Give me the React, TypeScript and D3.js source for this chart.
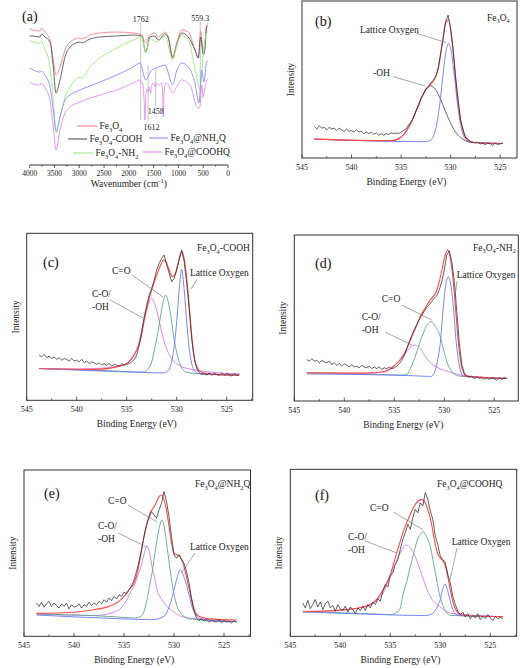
import React from "react";
import * as d3 from "d3";

type Pt = [number, number];
const FONT = "'Liberation Serif', 'Times New Roman', Times, serif";

/* ---------------- (a) FTIR data: [wavenumber, transmittance a.u.] ---------------- */
const wavenumberTicks = [4000, 3500, 3000, 2500, 2000, 1500, 1000, 500, 0];
const ftirNames = ["Fe_3O_4", "Fe_3O_4-COOH", "Fe_3O_4-NH_2", "Fe_3O_4@NH_2Q", "Fe_3O_4@COOHQ"];
const ftirColors = ["#f2808a", "#555555", "#9cee7c", "#8a8cff", "#e38af0"];

const ftirFe3O4: Pt[] = [
  [4000, 134], [3930, 133], [3793, 132], [3760, 135], [3692, 131], [3591, 123], [3524, 103], [3470, 88],
  [3389, 96], [3288, 113], [3187, 121], [2986, 125], [2952, 124], [2784, 128], [2582, 130], [2246, 131],
  [1910, 130], [1741, 128], [1660, 120], [1574, 128], [1473, 130], [1406, 126], [1271, 131], [1204, 126],
  [1117, 106], [1036, 120], [935, 133], [801, 131], [666, 113], [599, 105], [552, 132], [498, 113],
  [470, 120], [430, 138], [400, 140],
];
const ftirCOOH: Pt[] = [
  [4000, 127], [3930, 127], [3793, 126], [3760, 129], [3692, 126], [3591, 121], [3524, 96], [3470, 70],
  [3389, 83], [3288, 106], [3187, 116], [2986, 121], [2952, 120], [2784, 124], [2582, 126], [2246, 127],
  [1910, 128], [1741, 127], [1660, 111], [1574, 126], [1473, 127], [1406, 123], [1271, 129], [1204, 125],
  [1117, 105], [1036, 118], [935, 130], [801, 126], [666, 113], [599, 105], [552, 126], [498, 108],
  [470, 112], [430, 136], [400, 137],
];
const ftirNH2: Pt[] = [
  [4000, 123], [3930, 121], [3793, 120], [3760, 122], [3692, 113], [3658, 110], [3591, 96], [3524, 63],
  [3457, 30], [3389, 46], [3288, 66], [3187, 76], [2986, 86], [2952, 85], [2784, 96], [2582, 105],
  [2246, 115], [1910, 123], [1741, 126], [1660, 110], [1574, 124], [1439, 121], [1271, 127], [1117, 103],
  [1036, 117], [935, 128], [801, 123], [632, 86], [565, 73], [498, 110], [430, 130], [400, 131],
];
const ftirNH2Q: Pt[] = [
  [4000, 95], [3930, 93], [3793, 91], [3760, 92], [3692, 88], [3591, 76], [3524, 53], [3470, 32],
  [3389, 46], [3288, 63], [3187, 68], [2986, 73], [2582, 81], [2246, 88], [1910, 96], [1775, 100],
  [1660, 83], [1540, 93], [1439, 95], [1271, 98], [1117, 78], [1036, 92], [935, 100], [801, 96],
  [666, 80], [585, 60], [532, 93], [484, 81], [430, 101], [400, 102],
];
const ftirCOOHQ: Pt[] = [
  [4000, 81], [3930, 79], [3793, 78], [3760, 80], [3692, 75], [3591, 63], [3524, 36], [3470, 13],
  [3389, 33], [3288, 50], [3187, 56], [2986, 61], [2582, 68], [2246, 73], [1910, 80], [1775, 83],
  [1720, 79], [1690, 60], [1674, 43], [1660, 66], [1640, 74], [1607, 71], [1590, 76], [1560, 70],
  [1540, 78], [1500, 80], [1473, 76], [1440, 80], [1400, 78], [1340, 80], [1320, 72], [1305, 46],
  [1290, 70], [1250, 80], [1200, 78], [1117, 70], [1036, 76], [935, 83], [835, 81], [740, 75],
  [700, 68], [650, 58], [600, 55], [565, 56], [530, 78], [500, 66], [470, 74], [430, 82], [400, 84],
];
const ftirMarkLabels = ["1762", "559.3", "1612", "1458"];
const ftirMarkWavenumbers = [1762, 559.3, 1612, 1458];
const ftirMarkTop = [140, 141, 98, 95];
const ftirMarkBottom = [43, 60, 42, 57];

/* ---------------- XPS O 1s data ---------------- */
const energyTicks = [545, 540, 535, 530, 525];
const RAW_START = 543.75; // eV of first raw point
const RAW_STEP = 0.25; // eV between raw points

// (b) Fe3O4
const rawB = [
  20, 18.5, 20.5, 19, 19.5, 18, 19.5, 18.5,
  19, 17.5, 19, 18, 17, 18.5, 17, 17.5,
  16.5, 18, 16.5, 17, 15.5, 16.5, 15.5, 16.5,
  15, 16, 14.5, 15.5, 14.5, 15.5, 15, 16,
  15.5, 16, 15.5, 16.5, 17.5, 18.5, 21, 23,
  25.5, 30, 33, 38, 40.5, 44, 45, 48,
  49.5, 52, 56.5, 66.5, 76, 87, 91, 82,
  69, 51, 37.5, 24, 18.5, 13, 12, 10.5,
  10, 9.5, 10, 9, 9.5, 8.5, 9.5, 9,
  8, 9.5, 8.5, 9, 9.5,
];
const latticeB: Pt[] = [
  [543.75, 12], [532.6, 10.4], [532.0, 11.4], [531.7, 14.4], [531.4, 21.5], [531.1, 34.1], [530.8, 51.1],
  [530.5, 66.7], [530.2, 73], [529.9, 66.7], [529.6, 51.1], [529.3, 34.1], [529.0, 21.5], [528.7, 14.4],
  [528.4, 11.4], [527.8, 10], [524.75, 9.2],
];
const hydroxylB: Pt[] = [
  [543.75, 12], [536, 10.9], [535.5, 11.5], [535, 13.3], [534.5, 16.8], [534, 22.3], [533.5, 29.6],
  [533, 37.4], [532.5, 43.6], [532, 46], [531.5, 43.4], [531, 37.2], [530.5, 29.4], [530, 22.1],
  [529.5, 16.5], [529, 13], [528.5, 11], [528, 10], [524.75, 9.2],
];
const envelopeB: Pt[] = [
  [543.75, 12], [536, 11], [535, 13.4], [534, 22.4], [533, 37.5], [532.5, 43.8], [532, 47.2], [531.7, 49.3],
  [531.4, 53.9], [531.1, 62.8], [530.8, 75.3], [530.5, 86.1], [530.2, 87.9], [529.9, 77.6], [529.6, 58.6],
  [529.3, 39.1], [529.0, 24.6], [528.7, 16.3], [528.4, 12.5], [527.8, 10], [524.75, 9.2],
];

// (c) Fe3O4-COOH
const rawC = [
  27, 26, 27.5, 25.5, 26.5, 25, 26, 24.5,
  25.5, 24, 25, 24.5, 23.5, 25, 23.5, 24,
  23, 24.5, 22.5, 23.5, 22, 23, 22.5, 21.5,
  22.5, 21, 22, 21, 22, 20.5, 21.5, 21,
  20.5, 22, 21, 21.5, 22, 23, 24.5, 27,
  33, 41, 50, 57, 63, 67, 72, 78,
  82, 85, 87, 81, 76, 71, 73, 78,
  84, 90, 83, 70, 55, 37, 25, 19,
  16.5, 15.5, 16, 15, 16.5, 15, 16, 15.5,
  15, 16.5, 15, 16, 15.5, 14.5, 16, 15,
  15.5,
];
const singleCOC: Pt[] = [
  [543.75, 19], [540, 18.7], [537, 19.5], [535.5, 21], [535, 22], [534.5, 25], [534.2, 28], [533.8, 34],
  [533.5, 42], [533.2, 50], [532.9, 56.5], [532.5, 61], [532.1, 56], [531.8, 49], [531.5, 41], [531.2, 34],
  [530.8, 28], [530.3, 23.5], [529.7, 20.7], [528.5, 18.5], [527.5, 17.5], [525.5, 16.3], [523.75, 15.8],
];
const doubleCOC: Pt[] = [
  [543.75, 19], [536, 17.5], [534, 17], [533.3, 17], [532.9, 18.5], [532.5, 23], [532.2, 31], [531.9, 40],
  [531.6, 51], [531.35, 59], [531.1, 63], [530.85, 59], [530.6, 51], [530.35, 40], [530.05, 30],
  [529.75, 23], [529.4, 18.5], [529, 16.8], [528, 16], [523.75, 15],
];
const latticeC: Pt[] = [
  [543.75, 19], [535, 17], [531.4, 16.4], [530.9, 17.5], [530.6, 21], [530.3, 30], [530.0, 47],
  [529.75, 66], [529.5, 78.4], [529.25, 66], [529.0, 47], [528.75, 31], [528.5, 22], [528.2, 17.5],
  [527.8, 16], [523.75, 15],
];
const envelopeC: Pt[] = [
  [543.75, 19], [538, 18.5], [536, 20], [535, 22], [534.5, 25], [534, 30], [533.6, 37], [533.2, 49],
  [532.8, 60], [532.4, 68], [532, 75], [531.6, 81], [531.3, 84], [531, 82], [530.75, 78], [530.45, 74],
  [530.2, 75], [529.95, 80], [529.7, 86], [529.5, 89], [529.3, 86], [529.05, 76], [528.8, 60],
  [528.55, 42], [528.3, 28], [528.05, 21], [527.7, 17.5], [527, 16], [523.75, 15],
];

// (d) Fe3O4-NH2
const rawD = [
  25, 24, 25.5, 24, 24.5, 23, 24.5, 23.5,
  23, 24, 22, 23, 21.5, 22.5, 21, 22.5,
  21.5, 20.5, 22, 20.5, 21, 20, 21.5, 20.5,
  20, 21, 19.5, 20.5, 19.5, 20.5, 19, 20,
  19.5, 20.5, 19.5, 20, 21, 22.5, 24.5, 27.5,
  31.5, 36, 39.5, 43, 46, 49, 51.5, 54,
  56.5, 58, 60, 62, 63.5, 67, 72, 79,
  88, 90.5, 84, 72, 54, 35, 22, 17,
  15, 14.5, 15, 13.5, 14.5, 13.5, 14, 13,
  14, 13, 14, 13.5, 12.5, 14, 13, 14,
  13.5,
];
const singleCOD: Pt[] = [
  [543.75, 17], [538, 16.6], [536, 17.5], [535.1, 20.7], [534.4, 24.7], [533.8, 29.5], [533.3, 33],
  [532.9, 33.7], [532.4, 31.5], [531.8, 26], [531.2, 22], [530.8, 20.5], [530, 18.5], [528.4, 15.7],
  [526, 14.2], [523.75, 13.6],
];
const doubleCOD: Pt[] = [
  [543.75, 17], [536, 15.9], [534.2, 15.6], [533.7, 16.2], [533.4, 19.5], [532.8, 28.7], [532.4, 36],
  [532.1, 40.8], [531.7, 46], [531.3, 47.8], [530.9, 45], [530.4, 38.8], [530.1, 31.5], [529.8, 24.7],
  [529.4, 19], [529.1, 16.7], [528.5, 15], [523.75, 13.6],
];
const latticeD: Pt[] = [
  [543.75, 16.3], [533, 15.2], [531.3, 14.8], [530.8, 20.7], [530.6, 27], [530.4, 34.8], [530.1, 56.8],
  [529.85, 70], [529.6, 74.9], [529.35, 70], [529.1, 56.8], [528.8, 34.8], [528.4, 18.7], [528.1, 15],
  [523.75, 13.6],
];
const envelopeD: Pt[] = [
  [543.75, 17], [538, 16.8], [536, 17.8], [535.1, 20.8], [534.4, 25], [533.8, 31], [533.3, 38],
  [532.8, 45], [532.4, 51], [531.9, 56], [531.5, 60], [531.1, 63], [530.8, 66], [530.5, 72], [530.2, 80],
  [529.9, 88], [529.65, 91], [529.4, 86], [529.1, 72], [528.8, 50], [528.5, 30], [528.2, 19], [527.8, 15],
  [523.75, 13.6],
];

// (e) Fe3O4@NH2Q
const rawE = [
  20, 18, 20.5, 17.5, 19.5, 21, 18, 20,
  18.5, 17, 19.5, 18, 20, 16.5, 19, 17.5,
  18, 19.5, 17, 19, 18, 20.5, 18.5, 20,
  19, 21, 19.5, 22, 20.5, 23, 21.5, 24,
  22.5, 25, 24, 26.5, 25.5, 28, 30, 34,
  39, 45, 52, 60, 67, 71, 75, 73,
  71, 76, 80, 87, 81, 72, 60, 49,
  47, 49, 46, 44, 39, 32, 23, 15,
  11, 9.5, 10.5, 9, 10, 8.5, 9.5, 9,
  8.5, 10, 8, 9.5, 8.5, 9, 8, 9.5,
  8.5,
];
const singleCOE: Pt[] = [
  [543.75, 13.4], [538, 12.5], [536, 14.5], [535.3, 17], [534.7, 22], [534.3, 27], [534, 30], [533.6, 37],
  [533.3, 42], [533, 49], [532.7, 54.3], [532.4, 49], [532.2, 42], [531.9, 34], [531.7, 28], [531.2, 22],
  [530.7, 18], [530, 14.5], [529.3, 12], [527, 10], [523.75, 8.8],
];
const doubleCOE: Pt[] = [
  [543.75, 13.4], [536, 11.8], [534, 11], [533.3, 12], [533, 15], [532.7, 22], [532.45, 30], [532.2, 38],
  [531.95, 48], [531.7, 58], [531.45, 66], [531.2, 70], [530.95, 65], [530.7, 54], [530.45, 43],
  [530.2, 32], [529.95, 24], [529.7, 18], [529.3, 13.5], [529, 12], [528.5, 10.5], [523.75, 8.8],
];
const latticeE: Pt[] = [
  [543.75, 12.8], [536, 10.7], [532.2, 10], [531, 12], [530.6, 16], [530.3, 21], [530, 28], [529.7, 35],
  [529.4, 40], [529.1, 37], [528.8, 32], [528.5, 25], [528.2, 18], [527.8, 13], [527.3, 10.5],
  [523.75, 8.8],
];
const envelopeE: Pt[] = [
  [543.75, 13.8], [540, 14.5], [538, 16], [536.5, 18], [535.5, 21], [535, 24], [534.5, 28], [534, 32],
  [533.6, 40], [533.3, 50], [533, 60], [532.7, 68], [532.4, 74], [532.1, 77], [531.8, 80], [531.5, 84],
  [531.25, 85], [531, 82], [530.75, 76], [530.5, 66], [530.25, 56], [530, 50], [529.7, 49], [529.4, 48],
  [529.1, 44], [528.8, 37], [528.5, 29], [528.2, 21], [527.9, 15], [527.5, 12], [526.5, 10.5],
  [523.75, 9.8],
];

// (f) Fe3O4@COOHQ
const rawF = [
  20, 17, 21.5, 16.5, 19, 22, 17.5, 20.5,
  16, 19.5, 21, 17, 18.5, 15, 19, 16.5,
  15.5, 18, 14.5, 17.5, 16, 13.5, 17, 15.5,
  18, 15.5, 19, 17, 20.5, 19, 22.5, 21,
  27, 31, 29.5, 36, 38, 43, 46, 52,
  58, 62, 67, 64, 71, 76, 74, 80,
  78, 86, 82, 75, 70, 60, 55, 48,
  46, 44, 37, 32, 24, 19, 15, 13,
  14.5, 11.5, 13.5, 10.5, 12.5, 11, 13.5, 10,
  12, 10.5, 13, 11, 9.5, 12, 10.5, 11.5,
  10.5,
];
const singleCOF: Pt[] = [
  [543.75, 14.7], [540, 15.5], [538, 17], [537.3, 17.8], [536.3, 21.8], [535.7, 26], [535.3, 31.7],
  [534.7, 40.7], [534.2, 47.5], [533.8, 52], [533.4, 54.7], [533, 53], [532.6, 49], [532.2, 43],
  [531.8, 36], [531.3, 27.7], [530.8, 22], [530.3, 18.8], [529.5, 15.5], [529, 13.8], [526, 12.3],
  [523.75, 11.8],
];
const doubleCOF: Pt[] = [
  [543.75, 14.7], [538, 13.7], [535, 13], [534.3, 14.5], [534, 17], [533.7, 25.8], [533.35, 33],
  [533, 41.7], [532.65, 50], [532.3, 57.7], [532, 61], [531.7, 62.6], [531.35, 59], [531, 53.7],
  [530.65, 43], [530.3, 31.7], [530, 23], [529.7, 17.8], [529.35, 14], [529, 12.5], [523.75, 11.8],
];
const latticeF: Pt[] = [
  [543.75, 14.7], [536, 13], [531.5, 12.4], [531, 13], [530.5, 15.5], [530.2, 19], [530, 22], [529.8, 27],
  [529.55, 31.3], [529.3, 28], [529, 21], [528.75, 16], [528.5, 13.5], [528, 12.4], [523.75, 11.8],
];
const envelopeF: Pt[] = [
  [543.75, 14.8], [540, 15.7], [538, 17.2], [537, 19], [536.3, 22.5], [535.7, 28], [535, 37], [534.5, 47],
  [534, 57], [533.5, 66], [533, 73], [532.6, 78], [532.2, 81], [531.85, 82], [531.5, 80], [531.2, 75],
  [530.9, 68], [530.6, 58], [530.3, 50], [530, 47], [529.7, 45], [529.4, 40], [529.1, 31], [528.8, 22],
  [528.5, 16.5], [528.1, 13.5], [527, 12.3], [523.75, 11.8],
];

/* ---------------- styling ---------------- */
const C_RAW = "#2b2b2b";
const C_ENV = "#ff4b4b";
const C_LAT = "#6b78ff";
const C_OH = "#555555";
const C_SINGLE = "#d27cf2";
const C_DOUBLE = "#5ca883";
const C_LEADER = "#6a6a6a";

function rich(s: string, fs: number) {
  const parts = s.split(/(_\d+)/).filter((p) => p !== "");
  const out: React.ReactNode[] = [];
  let sub = false;
  const shift = fs * 0.3;
  parts.forEach((p, i) => {
    if (p.startsWith("_")) {
      out.push(
        <tspan key={i} fontSize={fs * 0.68} dy={shift}>
          {p.slice(1)}
        </tspan>
      );
      sub = true;
    } else {
      out.push(
        <tspan key={i} dy={sub ? -shift : 0}>
          {p}
        </tspan>
      );
      sub = false;
    }
  });
  return out;
}

type Note = { lines: string[]; at: Pt; leader: [Pt, Pt] };
type Comp = { pts: Pt[]; color: string };
type XpsCfg = {
  tag: string;
  sample: string;
  left: number;
  right: number;
  top: number;
  bottom: number;
  xEnd: number;
  tagPos: [number, number];
  samplePos: [number, number];
  raw: number[];
  envelope: Pt[];
  comps: Comp[];
  notes: Note[];
};

const panels: XpsCfg[] = [
  {
    tag: "(b)", sample: "Fe_3O_4", left: 302, right: 517, top: 1, bottom: 158, xEnd: 523.3,
    tagPos: [315, 26], samplePos: [487, 20.5], raw: rawB, envelope: envelopeB,
    comps: [{ pts: hydroxylB, color: C_OH }, { pts: latticeB, color: C_LAT }],
    notes: [
      { lines: ["Lattice Oxygen"], at: [539.15, 79.3], leader: [[533.42, 79.4], [530.4, 73.4]] },
      { lines: ["-OH"], at: [537.83, 52.2], leader: [[535.79, 51.8], [532.59, 45.9]] },
    ],
  },
  {
    tag: "(c)", sample: "Fe_3O_4-COOH", left: 26.7, right: 252.7, top: 233.3, bottom: 400.3, xEnd: 522.4,
    tagPos: [43, 267], samplePos: [197, 251], raw: rawC, envelope: envelopeC,
    comps: [{ pts: singleCOC, color: C_SINGLE }, { pts: doubleCOC, color: C_DOUBLE }, { pts: latticeC, color: C_LAT }],
    notes: [
      { lines: ["C=O"], at: [536.47, 75.6], leader: [[534.47, 75], [531.37, 61.9]] },
      { lines: ["C-O/", "-OH"], at: [538.47, 61.9], leader: [[536.67, 60.1], [533.37, 49.3]] },
      { lines: ["Lattice Oxygen"], at: [528.67, 74.4], leader: [[527.97, 72.3], [528.57, 66.7]] },
    ],
  },
  {
    tag: "(d)", sample: "Fe_3O_4-NH_2", left: 294.3, right: 518.3, top: 235, bottom: 401, xEnd: 522.6,
    tagPos: [315, 268], samplePos: [473, 250.5], raw: rawD, envelope: envelopeD,
    comps: [{ pts: singleCOD, color: C_SINGLE }, { pts: doubleCOD, color: C_DOUBLE }, { pts: latticeD, color: C_LAT }],
    notes: [
      { lines: ["C=O"], at: [536.26, 59.6], leader: [[534.26, 57.8], [531.26, 48.8]] },
      { lines: ["C-O/", "-OH"], at: [538.26, 48.5], leader: [[535.93, 41.6], [533.26, 33.7]] },
      { lines: ["Lattice Oxygen"], at: [528.76, 73.8], leader: [[528.73, 72.3], [528.93, 62.7]] },
    ],
  },
  {
    tag: "(e)", sample: "Fe_3O_4@NH_2Q", left: 24, right: 250.5, top: 470, bottom: 636.3, xEnd: 522.35,
    tagPos: [44, 498], samplePos: [195, 487], raw: rawE, envelope: envelopeE,
    comps: [{ pts: singleCOE, color: C_SINGLE }, { pts: doubleCOE, color: C_DOUBLE }, { pts: latticeE, color: C_LAT }],
    notes: [
      { lines: ["C=O"], at: [536.6, 79.6], leader: [[534.6, 79], [531.7, 68.7]] },
      { lines: ["C-O/", "-OH"], at: [537.6, 64.5], leader: [[535.6, 62.1], [532.7, 53.7]] },
      { lines: ["Lattice Oxygen"], at: [528.4, 51.9], leader: [[527.9, 50.1], [529.2, 38.7]] },
    ],
  },
  {
    tag: "(f)", sample: "Fe_3O_4@COOHQ", left: 290.3, right: 516.7, top: 469.3, bottom: 636.3, xEnd: 522.36,
    tagPos: [315, 500], samplePos: [437, 487], raw: rawF, envelope: envelopeF,
    comps: [{ pts: singleCOF, color: C_SINGLE }, { pts: doubleCOF, color: C_DOUBLE }, { pts: latticeF, color: C_LAT }],
    notes: [
      { lines: ["C=O"], at: [537.03, 75.3], leader: [[534.7, 74.4], [531.7, 63.7]] },
      { lines: ["C-O/", "-OH"], at: [539.23, 57.7], leader: [[537.53, 57.1], [534.36, 49.9]] },
      { lines: ["Lattice Oxygen"], at: [528.86, 54.7], leader: [[528.33, 52.9], [529.03, 33.7]] },
    ],
  },
];

function XpsPanel({ p }: { p: XpsCfg }) {
  const x = d3.scaleLinear().domain([545, p.xEnd]).range([p.left, p.right]);
  const y = d3.scaleLinear().domain([0, 100]).range([p.bottom, p.top]);
  const smooth = d3
    .line<Pt>()
    .x((d) => x(d[0]))
    .y((d) => y(d[1]))
    .curve(d3.curveMonotoneX);
  const rawLine = d3
    .line<number>()
    .x((_, i) => x(RAW_START - i * RAW_STEP))
    .y((d) => y(d));
  const minor = d3.range(542.5, p.xEnd, -5);
  const midY = (p.top + p.bottom) / 2;
  const noteFs = 9.5;
  return (
    <g>
      {p.comps.map((c, i) => (
        <path key={i} d={smooth(c.pts) || ""} fill="none" stroke={c.color} strokeWidth={0.9} />
      ))}
      <path d={smooth(p.envelope) || ""} fill="none" stroke={C_ENV} strokeWidth={1.1} />
      <path d={rawLine(p.raw) || ""} fill="none" stroke={C_RAW} strokeWidth={0.75} />
      {p.notes.map((n, i) => (
        <g key={i}>
          <line
            x1={x(n.leader[0][0])}
            y1={y(n.leader[0][1])}
            x2={x(n.leader[1][0])}
            y2={y(n.leader[1][1])}
            stroke={C_LEADER}
            strokeWidth={0.6}
          />
          {n.lines.map((t, j) => (
            <text key={j} x={x(n.at[0])} y={y(n.at[1]) + j * 13} fontSize={noteFs} fontFamily={FONT} fill="#222">
              {t}
            </text>
          ))}
        </g>
      ))}
      <rect x={p.left} y={p.top} width={p.right - p.left} height={p.bottom - p.top} fill="none" stroke="#333" strokeWidth={1} />
      {energyTicks.map((t) => (
        <g key={t}>
          <line x1={x(t)} x2={x(t)} y1={p.bottom} y2={p.bottom - 3.5} stroke="#333" strokeWidth={0.8} />
          <text x={x(t)} y={p.bottom + 11.5} fontSize={8} fontFamily={FONT} textAnchor="middle" fill="#222">
            {t}
          </text>
        </g>
      ))}
      {minor.map((t) => (
        <line key={t} x1={x(t)} x2={x(t)} y1={p.bottom} y2={p.bottom - 2} stroke="#333" strokeWidth={0.7} />
      ))}
      <text
        x={(p.left + p.right) / 2 - 3}
        y={p.bottom + 26.5}
        fontSize={9.5}
        fontFamily={FONT}
        textAnchor="middle"
        fill="#222"
      >
        Binding Energy (eV)
      </text>
      <text
        transform={`translate(${p.left - 8},${midY}) rotate(-90)`}
        fontSize={9.5}
        fontFamily={FONT}
        textAnchor="middle"
        fill="#222"
      >
        Intensity
      </text>
      <text x={p.tagPos[0]} y={p.tagPos[1]} fontSize={14} fontFamily={FONT} fill="#111">
        {p.tag}
      </text>
      <text x={p.samplePos[0]} y={p.samplePos[1]} fontSize={9.5} fontFamily={FONT} fill="#222">
        {rich(p.sample, 9.5)}
      </text>
    </g>
  );
}

function FtirPanel() {
  const x = d3.scaleLinear().domain([4000, 0]).range([29.7, 228]);
  const y = d3.scaleLinear().domain([0, 150]).range([163, 13]);
  const line = d3
    .line<Pt>()
    .x((d) => x(d[0]))
    .y((d) => y(d[1]))
    .curve(d3.curveMonotoneX);
  const series = [ftirFe3O4, ftirCOOH, ftirNH2, ftirNH2Q, ftirCOOHQ];
  const axisY = 165;
  const minor = d3.range(3750, 0, -500);
  // legend layout: [lineX1, lineX2, lineY]
  const legendPos: [number, number, number][] = [
    [77, 97, 126],
    [68, 87, 139],
    [73, 93, 153],
    [149, 168, 138],
    [143, 162, 152],
  ];
  const markLabelDy = [-1.5, -1.5, 8.5, 7.5];
  const markLabelDx = [0, 0, 3.5, 0];
  return (
    <g>
      {ftirMarkWavenumbers.map((w, i) => (
        <line key={i} x1={x(w)} x2={x(w)} y1={y(ftirMarkTop[i])} y2={y(ftirMarkBottom[i])} stroke="#b0b0b0" strokeWidth={0.7} />
      ))}
      {series.map((s, i) => (
        <path key={i} d={line(s) || ""} fill="none" stroke={ftirColors[i]} strokeWidth={0.9} />
      ))}
      {ftirMarkWavenumbers.map((w, i) => (
        <text
          key={i}
          x={x(w) + markLabelDx[i]}
          y={(i < 2 ? y(ftirMarkTop[i]) : y(ftirMarkBottom[i])) + markLabelDy[i]}
          fontSize={8}
          fontFamily={FONT}
          textAnchor="middle"
          fill="#222"
        >
          {ftirMarkLabels[i]}
        </text>
      ))}
      {ftirNames.map((n, i) => (
        <g key={n}>
          <line x1={legendPos[i][0]} x2={legendPos[i][1]} y1={legendPos[i][2]} y2={legendPos[i][2]} stroke={ftirColors[i]} strokeWidth={1.1} />
          <text x={legendPos[i][1] + 2.5} y={legendPos[i][2] + 3.2} fontSize={9.5} fontFamily={FONT} fill="#222">
            {rich(n, 9.5)}
          </text>
        </g>
      ))}
      <line x1={x(4000)} x2={x(0)} y1={axisY} y2={axisY} stroke="#333" strokeWidth={1} />
      {wavenumberTicks.map((t) => (
        <g key={t}>
          <line x1={x(t)} x2={x(t)} y1={axisY} y2={axisY + 3} stroke="#333" strokeWidth={0.8} />
          <text x={x(t)} y={axisY + 10.5} fontSize={7.5} fontFamily={FONT} textAnchor="middle" fill="#222">
            {t}
          </text>
        </g>
      ))}
      {minor.map((t) => (
        <line key={t} x1={x(t)} x2={x(t)} y1={axisY} y2={axisY + 1.8} stroke="#333" strokeWidth={0.7} />
      ))}
      <text x={(x(4000) + x(0)) / 2} y={axisY + 22} fontSize={9.5} fontFamily={FONT} textAnchor="middle" fill="#222">
        Wavenumber (cm
        <tspan fontSize={6.5} dy={-4}>
          -1
        </tspan>
        <tspan dy={4}>)</tspan>
      </text>
      <text x={22} y={21} fontSize={14} fontFamily={FONT} fill="#111">
        (a)
      </text>
    </g>
  );
}

export default function App() {
  return (
    <svg
      width={520}
      height={668}
      viewBox="0 0 520 668"
      style={{ position: "absolute", left: 0, top: 0, display: "block", background: "#fff" }}
    >
      <rect x={0} y={0} width={520} height={668} fill="#fff" />
      <FtirPanel />
      {panels.map((p) => (
        <XpsPanel key={p.tag} p={p} />
      ))}
    </svg>
  );
}
